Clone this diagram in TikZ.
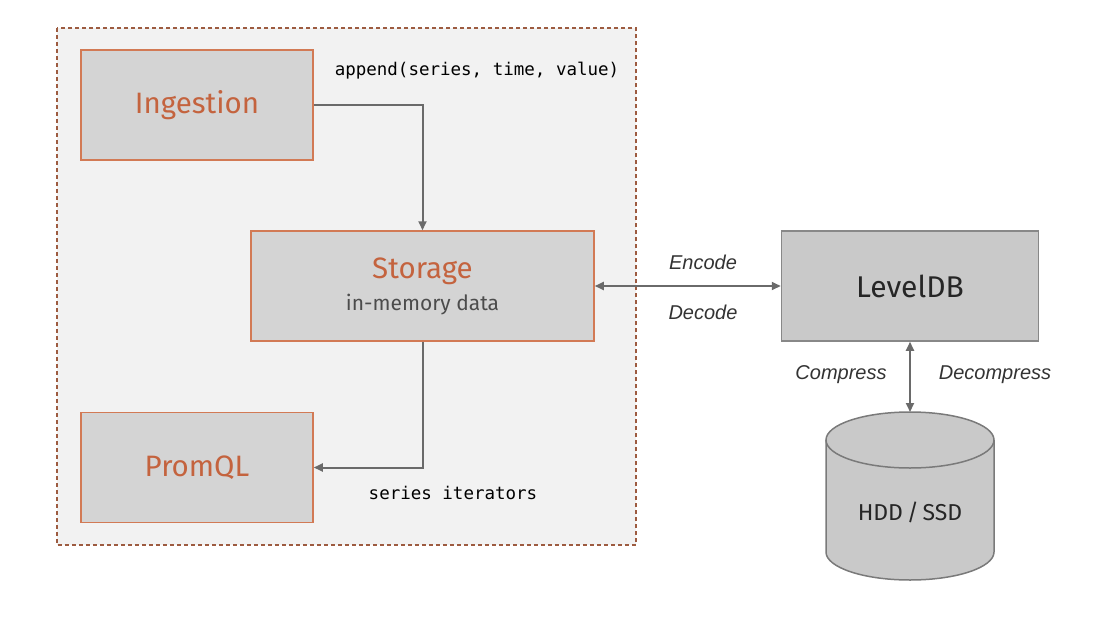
\documentclass[tikz,border=0pt]{standalone}
\usepackage{fontspec}
\setmainfont{Fira Sans}
\setmonofont{DejaVu Sans Mono}
\newfontfamily\labelfont{Liberation Sans}
\usetikzlibrary{arrows.meta}

\definecolor{rust}{HTML}{C4633E}
\definecolor{rustline}{HTML}{D27A55}
\definecolor{boxgray}{HTML}{D4D4D4}
\definecolor{panel}{HTML}{F2F2F2}
\definecolor{arrowgray}{HTML}{6A6A6A}
\definecolor{dbgray}{HTML}{C9C9C9}
\definecolor{dbline}{HTML}{888888}

\begin{document}
\begin{tikzpicture}[x=1pt, y=-1pt,
	part/.style={draw=rustline, line width=1.5pt, fill=boxgray, minimum width=232pt, minimum height=110pt, text=rust, font=\fontsize{29.5}{32}\selectfont},
	flow/.style={draw=arrowgray, line width=2pt, -{Triangle[length=9pt, width=8pt]}},
	twoway/.style={draw=arrowgray, line width=2pt, {Triangle[length=9pt, width=8pt]}-{Triangle[length=9pt, width=8pt]}},
	code/.style={font=\ttfamily\fontsize{17.5}{20}\selectfont},
	verb/.style={font=\labelfont\itshape\fontsize{20}{24}\selectfont, text=black!80}]
	
	\useasboundingbox (0,0) rectangle (1120,624);
	
	% panel
	\draw[draw=rustline!75!black, dash pattern=on 4pt off 3pt, line width=1.2pt, fill=panel] (57,28) rectangle (636,545);
	
	\node[part] (ingest) at (197,105) {Ingestion};
	\node[part, minimum width=343pt, align=center] (store) at (422.5,286) {Storage\\[0pt]{\color{black!70}\fontsize{21}{24}\selectfont in-memory data}};
	\node[part] (promql) at (197,467.5) {PromQL};
	\node[draw=dbline, line width=1.5pt, fill=dbgray, minimum width=257pt, minimum height=110pt, text=black!85, font=\fontsize{30}{32}\selectfont] (leveldb) at (910,286) {LevelDB};
	
	% disk
	\draw[draw=dbline!90!black, line width=1.5pt, fill=dbgray] (826,440) -- (826,552) arc[start angle=180, end angle=0, x radius=84, y radius=28] -- (994,440);
	\draw[draw=dbline!90!black, line width=1.5pt, fill=dbgray] (910,440) ellipse[x radius=84, y radius=28];
	\node[text=black!85, font=\fontsize{23}{26}\selectfont] (disk) at (910,512) {HDD\,/\,SSD};
	\coordinate (disktop) at (910,412);
	
	\draw[flow] (ingest.east) -| (store.north);
	\draw[flow] (store.south) |- (promql.east);
	\draw[twoway] (store.east) -- (leveldb.west);
	\draw[twoway] (leveldb.south) -- (disktop);
	
	\node[code] (appendtxt) at (477,71) {append(series, time, value)};
	\node[code] (itertxt) at (453,493) {series iterators};
	\node[verb] (enc) at (703,262) {Encode};
	\node[verb] (dec) at (703,312) {Decode};
	\node[verb] (comp) at (841,375) {Compress};
	\node[verb] (decomp) at (995,375) {Decompress};
	
\end{tikzpicture}
\end{document}
